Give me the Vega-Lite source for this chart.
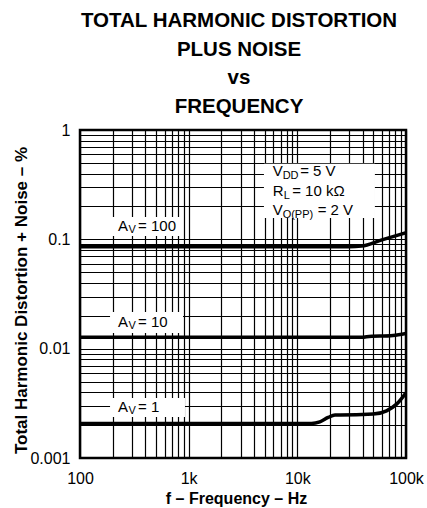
{
  "$schema": "https://vega.github.io/schema/vega-lite/v6.json",
  "width": 326,
  "height": 328,
  "autosize": {"type": "none"},
  "padding": {"left": 80, "top": 130, "right": 21, "bottom": 50},
  "background": "white",
  "config": {
    "font": "Liberation Sans",
    "view": {"stroke": "black", "strokeWidth": 2.5},
    "axis": {
      "grid": true, "gridColor": "black", "gridOpacity": 1, "gridWidth": 1.2,
      "domain": false, "ticks": false, "tickSize": 0,
      "labelColor": "black", "labelFontSize": 16, "labelFont": "Liberation Sans",
      "titleFont": "Liberation Sans", "titleFontWeight": "bold", "titleColor": "black",
      "labelOverlap": false, "labelFlush": false
    }
  },
  "title": {
    "text": ["TOTAL HARMONIC DISTORTION", "PLUS NOISE", "vs", "FREQUENCY"],
    "fontSize": 20.5, "fontWeight": "bold", "lineHeight": 28.5, "anchor": "middle",
    "offset": 5, "color": "black", "dx": -4, "font": "Liberation Sans"
  },
  "layer": [
    {
      "data": {"values": [
        {"g": "100", "f": 100, "v": 0.0857},
        {"g": "100", "f": 1000, "v": 0.0857},
        {"g": "100", "f": 10000, "v": 0.0857},
        {"g": "100", "f": 30000, "v": 0.0857},
        {"g": "100", "f": 39000, "v": 0.0868},
        {"g": "100", "f": 60000, "v": 0.099},
        {"g": "100", "f": 80000, "v": 0.1075},
        {"g": "100", "f": 100000, "v": 0.115},
        {"g": "10", "f": 100, "v": 0.0127},
        {"g": "10", "f": 1000, "v": 0.0127},
        {"g": "10", "f": 10000, "v": 0.0127},
        {"g": "10", "f": 40000, "v": 0.0127},
        {"g": "10", "f": 43400, "v": 0.01285},
        {"g": "10", "f": 76000, "v": 0.0132},
        {"g": "10", "f": 100000, "v": 0.0138},
        {"g": "1", "f": 100, "v": 0.00207},
        {"g": "1", "f": 1000, "v": 0.00207},
        {"g": "1", "f": 10000, "v": 0.00207},
        {"g": "1", "f": 13500, "v": 0.00207},
        {"g": "1", "f": 16100, "v": 0.00214},
        {"g": "1", "f": 19200, "v": 0.00235},
        {"g": "1", "f": 22200, "v": 0.00247},
        {"g": "1", "f": 24700, "v": 0.00247},
        {"g": "1", "f": 49900, "v": 0.00252},
        {"g": "1", "f": 66200, "v": 0.0027},
        {"g": "1", "f": 81900, "v": 0.00311},
        {"g": "1", "f": 100000, "v": 0.00395}
      ]},
      "mark": {"type": "line", "color": "black", "strokeWidth": 3.5, "interpolate": "monotone", "clip": true},
      "encoding": {
        "x": {
          "field": "f", "type": "quantitative",
          "scale": {"type": "log", "domain": [100, 100000], "nice": false},
          "axis": {
            "values": [100, 200, 300, 400, 500, 600, 700, 800, 900, 1000, 2000, 3000, 4000, 5000, 6000, 7000, 8000, 9000, 10000, 20000, 30000, 40000, 50000, 60000, 70000, 80000, 90000, 100000],
            "labelExpr": "datum.value == 100 ? '100' : datum.value == 1000 ? '1k' : datum.value == 10000 ? '10k' : datum.value == 100000 ? '100k' : ''",
            "labelPadding": 12,
            "title": "f – Frequency – Hz",
            "titleFontSize": 16, "titleX": 156, "titleY": 45, "titleBaseline": "alphabetic"
          }
        },
        "y": {
          "field": "v", "type": "quantitative",
          "scale": {"type": "log", "domain": [0.001, 1], "nice": false},
          "axis": {
            "values": [0.001, 0.002, 0.003, 0.004, 0.005, 0.006, 0.007, 0.008, 0.009, 0.01, 0.02, 0.03, 0.04, 0.05, 0.06, 0.07, 0.08, 0.09, 0.1, 0.2, 0.3, 0.4, 0.5, 0.6, 0.7, 0.8, 0.9, 1],
            "labelExpr": "datum.value == 0.001 ? '0.001' : datum.value == 0.01 ? '0.01' : datum.value == 0.1 ? '0.1' : datum.value == 1 ? '1' : ''",
            "labelPadding": 10,
            "title": "Total Harmonic Distortion + Noise – %",
            "titleFontSize": 17, "titleX": -50, "titleY": 170
          }
        },
        "detail": {"field": "g"}
      }
    },
    {
      "data": {"values": [
        {"f": 189, "f2": 887, "v": 0.16, "v2": 0.107},
        {"f": 189, "f2": 887, "v": 0.0216, "v2": 0.0139},
        {"f": 189, "f2": 925, "v": 0.00353, "v2": 0.00237},
        {"f": 4929, "f2": 51740, "v": 0.49, "v2": 0.157}
      ]},
      "mark": {"type": "rect", "fill": "white", "stroke": null},
      "encoding": {
        "x": {"field": "f", "type": "quantitative"},
        "x2": {"field": "f2"},
        "y": {"field": "v", "type": "quantitative"},
        "y2": {"field": "v2"}
      }
    },
    {
      "data": {"values": [
        {"f": 224, "v": 0.1204, "t": "A"},
        {"f": 224, "v": 0.01577, "t": "A"},
        {"f": 224, "v": 0.00265, "t": "A"},
        {"f": 5927, "v": 0.3795, "t": "V"},
        {"f": 5927, "v": 0.2506, "t": "R"},
        {"f": 5927, "v": 0.1668, "t": "V"}
      ]},
      "mark": {"type": "text", "align": "left", "baseline": "alphabetic", "fontSize": 15, "color": "black"},
      "encoding": {
        "x": {"field": "f", "type": "quantitative"},
        "y": {"field": "v", "type": "quantitative"},
        "text": {"field": "t"}
      }
    },
    {
      "data": {"values": [
        {"f": 224, "v": 0.1204, "t": "V"},
        {"f": 224, "v": 0.01577, "t": "V"},
        {"f": 224, "v": 0.00265, "t": "V"}
      ]},
      "mark": {"type": "text", "align": "left", "baseline": "alphabetic", "fontSize": 11, "dx": 10.5, "dy": 2, "color": "black"},
      "encoding": {
        "x": {"field": "f", "type": "quantitative"},
        "y": {"field": "v", "type": "quantitative"},
        "text": {"field": "t"}
      }
    },
    {
      "data": {"values": [
        {"f": 224, "v": 0.1204, "t": "= 100"},
        {"f": 224, "v": 0.01577, "t": "= 10"},
        {"f": 224, "v": 0.00265, "t": "= 1"}
      ]},
      "mark": {"type": "text", "align": "left", "baseline": "alphabetic", "fontSize": 15, "dx": 20, "color": "black"},
      "encoding": {
        "x": {"field": "f", "type": "quantitative"},
        "y": {"field": "v", "type": "quantitative"},
        "text": {"field": "t"}
      }
    },
    {
      "data": {"values": [
        {"f": 5927, "v": 0.3795, "t": "DD"},
        {"f": 5927, "v": 0.1668, "t": "O(PP)"}
      ]},
      "mark": {"type": "text", "align": "left", "baseline": "alphabetic", "fontSize": 11, "dx": 10, "dy": 3, "color": "black"},
      "encoding": {
        "x": {"field": "f", "type": "quantitative"},
        "y": {"field": "v", "type": "quantitative"},
        "text": {"field": "t"}
      }
    },
    {
      "data": {"values": [
        {"f": 5927, "v": 0.2506, "t": "L"}
      ]},
      "mark": {"type": "text", "align": "left", "baseline": "alphabetic", "fontSize": 11, "dx": 11, "dy": 3, "color": "black"},
      "encoding": {
        "x": {"field": "f", "type": "quantitative"},
        "y": {"field": "v", "type": "quantitative"},
        "text": {"field": "t"}
      }
    },
    {
      "data": {"values": [{"f": 5927, "v": 0.3795, "t": "= 5 V"}]},
      "mark": {"type": "text", "align": "left", "baseline": "alphabetic", "fontSize": 15, "dx": 27.5, "color": "black"},
      "encoding": {
        "x": {"field": "f", "type": "quantitative"},
        "y": {"field": "v", "type": "quantitative"},
        "text": {"field": "t"}
      }
    },
    {
      "data": {"values": [{"f": 5927, "v": 0.2506, "t": "= 10 kΩ"}]},
      "mark": {"type": "text", "align": "left", "baseline": "alphabetic", "fontSize": 15, "dx": 19.5, "color": "black"},
      "encoding": {
        "x": {"field": "f", "type": "quantitative"},
        "y": {"field": "v", "type": "quantitative"},
        "text": {"field": "t"}
      }
    },
    {
      "data": {"values": [{"f": 5927, "v": 0.1668, "t": "= 2 V"}]},
      "mark": {"type": "text", "align": "left", "baseline": "alphabetic", "fontSize": 15, "dx": 45, "color": "black"},
      "encoding": {
        "x": {"field": "f", "type": "quantitative"},
        "y": {"field": "v", "type": "quantitative"},
        "text": {"field": "t"}
      }
    }
  ]
}
